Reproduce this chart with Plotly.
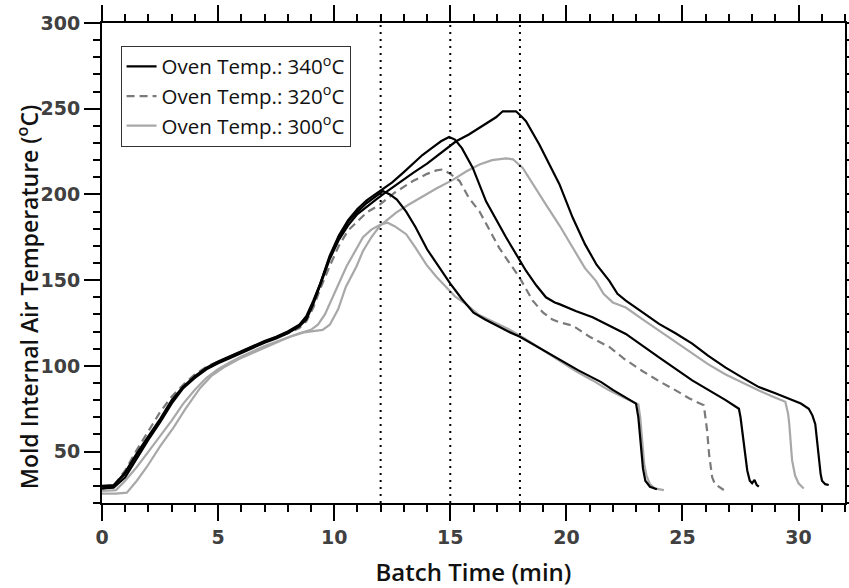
import plotly.graph_objects as go

# ---- data ----
# 340 C, 12 min heating
t_340_12 = [0, 0.5, 1, 1.5, 2, 2.5, 3, 3.5, 4, 4.5, 5, 5.5, 6, 6.5, 7, 7.5, 8, 8.5, 8.8, 9.1, 9.4, 9.8, 10.2, 10.6, 11, 11.4, 11.8, 12.1,
            12.4, 12.7, 13.1, 13.5, 14, 14.5, 15, 15.5, 16, 16.5, 17, 17.5, 18, 18.5, 19, 19.5, 20, 20.5, 21, 21.5, 22, 22.5, 23.0,
            23.1, 23.2, 23.3, 23.4, 23.6, 23.9]
T_340_12 = [29.5, 30, 38, 49, 59, 69, 80, 88, 94, 99, 102.5, 105.5, 108.5, 111.5, 114.5, 117, 120, 124, 129, 138, 148, 163, 175, 184, 190, 195, 199, 202,
            200, 197, 190, 181, 168, 158, 148, 139, 131, 127, 123.5, 120, 117, 113, 109, 105, 101.5, 97.5, 94, 90.5, 86, 82, 78,
            70, 55, 40, 33, 29.5, 28]

# 340 C, 15 min heating
t_340_15 = [0, 0.5, 1, 1.5, 2, 2.5, 3, 3.5, 4, 4.5, 5, 5.5, 6, 6.5, 7, 7.5, 8, 8.5, 8.8, 9.1, 9.4, 9.8, 10.2, 10.6, 11, 11.4, 11.8,
            12.1, 12.5, 13, 13.4, 13.8, 14.2, 14.6, 14.95, 15.2, 15.5, 15.97, 16.54, 17, 17.4, 18.26, 18.7, 19.12, 19.5, 19.7, 20.4,
            21.13, 22.56, 23.99, 25.42, 26.86, 27.43, 27.5, 27.57, 27.7, 27.79, 27.9, 28.0, 28.1, 28.2, 28.29]
T_340_15 = [30, 30.5, 37, 48, 58, 68, 79, 87.5, 93.5, 98.5, 102, 105, 108, 111, 114, 116.5, 119.5, 123.5, 128, 137, 148, 164, 176, 185, 191.5, 196.5, 200.5,
            203, 207, 213, 218, 223, 227, 231, 233.5, 232, 227, 215.5, 196, 185, 175, 155.5, 147, 140, 137, 136, 132,
            128.3, 118.6, 105, 91.5, 80, 75, 70, 62.4, 48, 39, 33, 31.5, 33.5, 30.5, 29.5]

# 340 C, 18 min heating
t_340_18 = [0, 0.5, 1, 1.5, 2, 2.5, 3, 3.5, 4, 4.5, 5, 5.5, 6, 6.5, 7, 7.5, 8, 8.5, 8.8, 9.1, 9.4, 9.8, 10.2, 10.6, 11, 11.4, 11.8,
            12.2, 12.7, 13.4, 14, 14.6, 15.25, 15.8, 16.26, 16.97, 17.26, 17.83, 18.1, 18.26, 18.84, 19.3, 19.7, 20.27, 20.8, 21.3,
            21.85, 22.2, 22.56, 23.3, 23.99, 24.7, 25.42, 26.1, 26.86, 27.6, 28.29, 29, 29.72, 30.1, 30.44, 30.6, 30.72, 30.8, 30.85,
            30.95, 31.01, 31.15, 31.3]
T_340_18 = [28.5, 29, 35, 46, 57, 67, 78, 87, 93, 98, 101.5, 104.5, 107.5, 110.5, 113.5, 116, 119, 123, 127, 136, 147, 162, 173.5, 182, 188.5, 193, 197,
            201, 206, 212.6, 218, 224, 231, 235, 238.8, 245, 248.5, 248.5, 245, 242.7, 229, 217, 206, 186.5, 171, 159,
            149.6, 142, 138, 131, 124.5, 119, 113, 106, 99, 93, 87.6, 84, 80, 78, 75, 71, 66, 55, 47,
            37, 33, 31, 30.5]

# 320 C, 15 min heating
t_320_15 = [0, 0.5, 1, 1.5, 2, 2.5, 3, 3.5, 4, 4.5, 5, 5.5, 6, 6.5, 7, 7.5, 8, 8.5, 8.8, 9.1, 9.4, 9.8, 10.2, 10.6, 11, 11.4, 11.96,
            12.6, 13.39, 14, 14.4, 14.68, 15, 15.4, 15.8, 16.26, 16.7, 17.1, 17.5, 17.98, 18.55, 19.0, 19.4, 19.7, 20.27, 21, 21.85,
            22.5, 23.27, 24, 24.71, 25.3, 25.92, 26.0, 26.06, 26.15, 26.28, 26.4, 26.57, 26.78]
T_320_15 = [28, 30, 39, 51, 62, 73, 82, 89, 95, 99.5, 102.5, 105, 108, 111, 114, 116.5, 119, 122, 126, 134, 145, 158, 170, 179, 184.5, 189.5, 194,
            201, 207.8, 212, 214, 214.6, 212, 207.8, 198, 190, 179, 169, 161, 151.6, 138, 131, 127, 125.4, 123.5, 117, 111,
            104, 97, 91, 85.7, 81, 77, 70, 62.4, 48, 35, 31, 29.5, 27.6]

# 300 C, 12 min heating
t_300_12 = [0, 0.6, 1, 1.5, 2, 2.5, 3, 3.5, 4, 4.5, 5, 5.5, 6, 6.5, 7, 7.5, 8, 8.5, 9, 9.3, 9.6, 9.81, 10.2, 10.53, 10.9, 11.24, 11.6,
            12, 12.3, 12.6, 13.1, 13.5, 13.97, 14.4, 14.83, 15.2, 15.68, 16.2, 16.8, 17.5, 18.2, 19, 19.7, 20.4, 21.13, 21.8, 22.56,
            23.1, 23.18, 23.25, 23.35, 23.45, 23.6, 23.8, 24.2]
T_300_12 = [27, 27.5, 33, 41, 50, 59, 68, 78, 86, 93, 98, 102, 105.5, 108.5, 111.5, 114, 116.5, 119, 121, 124, 130, 136, 148, 158, 167, 175, 179.5,
            182.5, 183.5, 181.5, 176.8, 169, 159, 152, 145.8, 140.5, 136, 130, 126, 121.5, 116, 109, 103, 97, 91.5, 86, 81,
            77.5, 70, 58, 43, 36, 31, 28.5, 27.5]

# 300 C, 18 min heating
t_300_18 = [0, 0.6, 1.07, 1.5, 1.93, 2.5, 3.08, 3.6, 4.22, 4.7, 5.23, 5.9, 6.66, 7.4, 8.09, 8.7, 9.24, 9.5, 9.81, 10.17, 10.5, 10.96,
            11.24, 11.6, 11.96, 12.3, 12.68, 13.2, 13.68, 14.4, 15.11, 15.7, 16.26, 16.8, 17.4, 17.7, 18.12, 18.6, 19.12, 19.7, 20.27,
            20.8, 21.27, 21.6, 22, 22.56, 23.3, 23.99, 24.7, 25.42, 26.1, 26.86, 27.6, 28.29, 28.9, 29.43, 29.55, 29.6, 29.72, 29.85,
            30.0, 30.22]
T_300_18 = [25.5, 25.5, 26, 33, 41, 53, 64, 75, 87, 94, 99, 104, 108.5, 113, 117, 119.5, 120.5, 121, 124, 133, 146, 158,
            167, 175, 181.5, 185.5, 189.5, 194, 198, 203.5, 208.5, 213.5, 217.5, 220, 221, 220.5, 215.5, 205, 194, 182, 169,
            157, 149.6, 142, 137, 134, 127, 120.6, 114, 107, 101, 95, 90, 85.6, 82, 79, 72, 66, 45, 36,
            31.5, 28.5]

legend_names = ["Oven Temp.: 340<sup>o</sup>C", "Oven Temp.: 320<sup>o</sup>C", "Oven Temp.: 300<sup>o</sup>C"]
heating_marks = [12, 15, 18]
y_title = "Mold Internal Air Temperature (<sup>o</sup>C)"
x_title = "Batch Time (min)"

BLACK = "#000000"
DGRAY = "#7a7a7a"
LGRAY = "#a8a8a8"

fig = go.Figure()

series = [
    (t_340_12, T_340_12, 0, BLACK, "solid", True),
    (t_340_15, T_340_15, 0, BLACK, "solid", False),
    (t_340_18, T_340_18, 0, BLACK, "solid", False),
    (t_320_15, T_320_15, 1, DGRAY, "8px,5px", True),
    (t_300_12, T_300_12, 2, LGRAY, "solid", True),
    (t_300_18, T_300_18, 2, LGRAY, "solid", False),
]
# draw grey first so black sits on top, but keep legend order
order = [4, 5, 3, 0, 1, 2]
for i in order:
    t, T, g, col, dash, show = series[i]
    fig.add_trace(go.Scatter(
        x=t, y=T, mode="lines", name=legend_names[g], legendgroup=str(g),
        showlegend=show, legendrank=g + 1,
        line=dict(color=col, width=2.2, dash=dash),
    ))

for m in heating_marks:
    fig.add_vline(x=m, line=dict(color="black", width=2, dash="2px,5px"))

tickfont = dict(family="DejaVu Sans", size=19, color="#404040", weight="bold")

common = dict(
    showline=True, linecolor="black", linewidth=2, mirror="ticks",
    ticks="outside", ticklen=16, tickwidth=2, tickcolor="black",
    showgrid=False, zeroline=False, tickfont=tickfont, automargin=False,
)

fig.update_xaxes(
    range=[0, 32], tickmode="linear", tick0=0, dtick=5,
    minor=dict(ticks="outside", ticklen=7, tickwidth=2, tickcolor="black", dtick=1, tick0=0, showgrid=False),
    title_text=x_title, title_standoff=18,
    title_font=dict(family="Open Sans", size=24, color="#111111", weight=600),
    **common,
)
fig.update_yaxes(
    range=[20, 300], tickmode="array", tickvals=[50, 100, 150, 200, 250, 300],
    minor=dict(ticks="outside", ticklen=7, tickwidth=2, tickcolor="black", dtick=10, tick0=0, showgrid=False),
    **common,
)

fig.add_annotation(
    text=y_title, textangle=-90, showarrow=False,
    xref="paper", yref="paper", x=-0.1, y=0.43, xanchor="center", yanchor="middle",
    font=dict(family="Open Sans", size=23, color="#111111", weight=600),
)

fig.update_layout(
    width=849, height=588,
    margin=dict(l=102, r=4, t=23, b=85),
    plot_bgcolor="white", paper_bgcolor="white",
    legend=dict(
        x=0.025, y=0.953, xanchor="left", yanchor="top",
        bgcolor="white", bordercolor="#333333", borderwidth=1,
        font=dict(family="Open Sans", size=20.5, color="#111111"),
        tracegroupgap=0, traceorder="normal",
    ),
)

fig.write_html("out.html")
